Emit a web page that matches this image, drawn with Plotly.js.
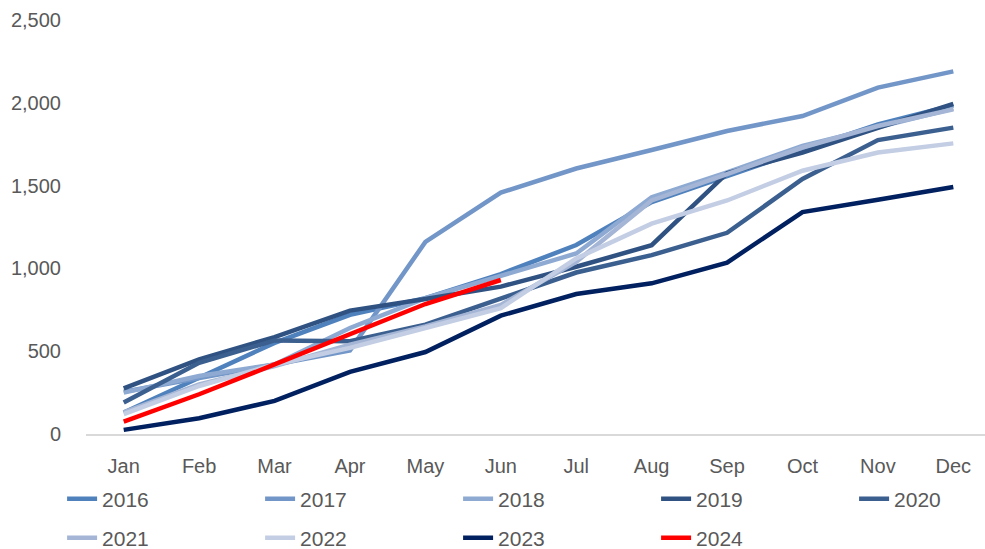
<!DOCTYPE html>
<html>
<head>
<meta charset="utf-8">
<script src="https://cdn.plot.ly/plotly-3.0.1.min.js"></script>
<style>
  html, body { margin: 0; padding: 0; background: #fff; }
  #chart { width: 985px; height: 549px; }
</style>
</head>
<body>
<div id="chart"></div>
<script>
const months = ["Jan", "Feb", "Mar", "Apr", "May", "Jun", "Jul", "Aug", "Sep", "Oct", "Nov", "Dec"]

const y2016 = [130, 340, 550, 720, 820, 966, 1141, 1400, 1560, 1715, 1870, 1985]
const y2017 = [255, 335, 420, 505, 1160, 1458, 1603, 1715, 1830, 1920, 2092, 2190]
const y2018 = [250, 350, 420, 640, 820, 955, 1090, 1430, 1580, 1740, 1850, 1965]
const y2019 = [275, 450, 585, 745, 815, 890, 1010, 1140, 1575, 1700, 1848, 1993]
const y2020 = [190, 430, 565, 560, 660, 815, 975, 1080, 1215, 1540, 1775, 1850]
const y2021 = [130, 300, 410, 540, 650, 780, 1040, 1410, 1570, 1730, 1860, 1960]
const y2022 = [120, 290, 420, 520, 640, 760, 1060, 1270, 1410, 1590, 1700, 1755]
const y2023 = [25, 95, 200, 375, 495, 715, 845, 910, 1035, 1340, 1415, 1492]
const y2024 = [75, 240, 420, 600, 785, 930]

// legend rows: 2016-2019 | 2020 (own box so the row does not wrap) | 2021-2024
const series = [
  {name: "2016", y: y2016, color: "#4f81bd", legend: "legend"},
  {name: "2017", y: y2017, color: "#7396c8", legend: "legend"},
  {name: "2018", y: y2018, color: "#8eaad2", legend: "legend"},
  {name: "2019", y: y2019, color: "#2f5282", legend: "legend"},
  {name: "2020", y: y2020, color: "#3b5f8f", legend: "legend3"},
  {name: "2021", y: y2021, color: "#a4b5d5", legend: "legend2"},
  {name: "2022", y: y2022, color: "#c3cee4", legend: "legend2"},
  {name: "2023", y: y2023, color: "#002060", legend: "legend2"},
  {name: "2024", y: y2024, color: "#ff0000", legend: "legend2"}
]

const font = {family: "'Liberation Sans', Arial, sans-serif", size: 20, color: "#595959"}
const legFont = {family: "'Liberation Sans', Arial, sans-serif", size: 21, color: "#595959"}

const data = series.map(s => ({
  x: months.slice(0, s.y.length),
  y: s.y,
  type: "scatter",
  mode: "lines",
  name: s.name,
  legend: s.legend,
  line: {color: s.color, width: 4.5}
}))

const legX = -0.0266
const row1 = -0.108
const legendBase = {
  orientation: "h",
  x: legX,
  xanchor: "left",
  yanchor: "top",
  entrywidth: 153,
  font: legFont,
  bgcolor: "rgba(0,0,0,0)"
}

Plotly.newPlot("chart", data, {
  width: 985,
  height: 549,
  margin: {l: 86, r: 0, t: 20, b: 115, autoexpand: false},
  paper_bgcolor: "#fff",
  plot_bgcolor: "#fff",
  font: font,
  showlegend: true,
  xaxis: {
    type: "category",
    range: [-0.5, 11.42],
    showgrid: false,
    zeroline: false,
    showline: true,
    linecolor: "#d9d9d9",
    linewidth: 1.5,
    ticks: "",
    ticklabelstandoff: 13,
    tickfont: font
  },
  yaxis: {
    range: [0, 2500],
    tickvals: [0, 500, 1000, 1500, 2000, 2500],
    tickformat: ",d",
    showgrid: false,
    zeroline: false,
    showline: false,
    ticks: "",
    ticklabelstandoff: 24,
    tickfont: font
  },
  legend: Object.assign({}, legendBase, {y: row1}),
  legend3: Object.assign({}, legendBase, {y: row1, x: legX + 4 * 198 / 899}),
  legend2: Object.assign({}, legendBase, {y: -0.202})
}, {displayModeBar: false, staticPlot: true})
</script>
</body>
</html>
